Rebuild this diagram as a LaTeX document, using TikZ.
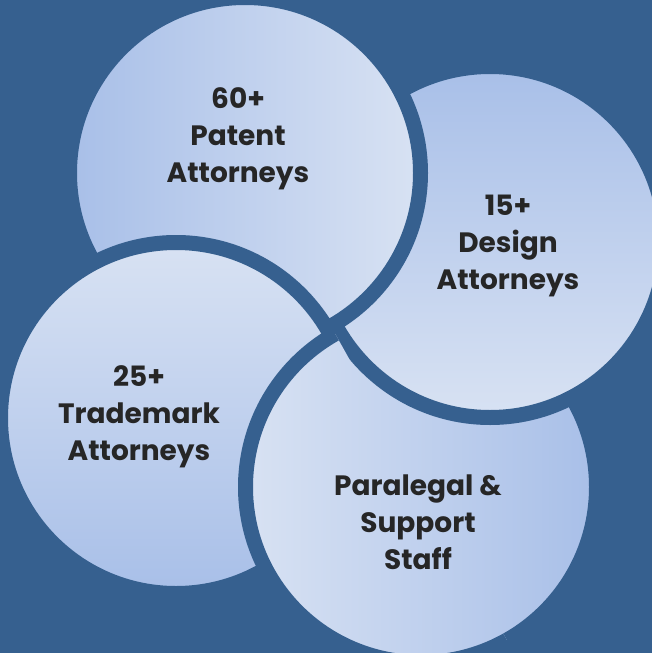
\documentclass[tikz,border=0pt]{standalone}
\usepackage{fontspec}
\setmainfont{Poppins}
\definecolor{navy}{HTML}{36608F}
\definecolor{bubdark}{HTML}{A8BFE8}
\definecolor{bublight}{HTML}{D8E2F3}
\definecolor{ink}{HTML}{262626}
\begin{document}
\begin{tikzpicture}[x=1pt, y=-1pt]

\tikzstyle{bubble}=[circle, draw=navy, line width=15pt, inner sep=0pt, minimum size=351pt, top color=bubdark, bottom color=bublight]
\tikzstyle{caption}=[align=center, text=ink, font=\fontsize{28}{37}\selectfont\bfseries]

\fill [navy] (0,0) rectangle (652,653);
\useasboundingbox (0,0) rectangle (652,653);

% pinwheel, each one over the next
\node (staff) [bubble, shading angle=-90] at (421,487) {};
\node (design) [bubble, shading angle=0] at (490,242) {};
\node (patent) [bubble, shading angle=90] at (245,173) {};
\node (trademark) [bubble, shading angle=180] at (176,418) {};
\begin{scope}
\clip (157,16) -- (509,644) -- (195,820) -- (-157,192) -- cycle;
\node (staffover) [bubble, shading angle=-90] at (staff) {};
\end{scope}

\node (patenttxt) [caption] at (238,139) {60+\\Patent\\Attorneys};
\node (designtxt) [caption] at (508,246) {15+\\Design\\Attorneys};
\node (trademarktxt) [caption] at (139,417) {25+\\Trademark\\Attorneys};
\node (stafftxt) [caption] at (418,522) {Paralegal \&\\Support\\Staff};

\end{tikzpicture}
\end{document}
